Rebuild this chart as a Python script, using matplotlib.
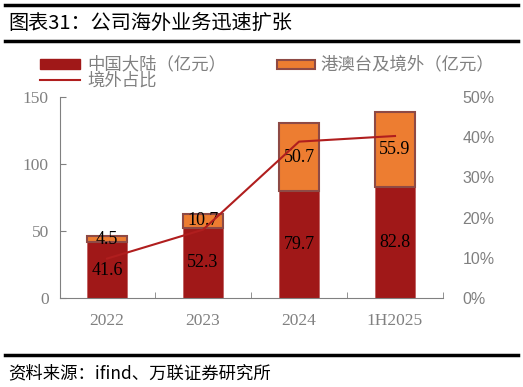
import numpy as np
import matplotlib.pyplot as plt
from matplotlib.lines import Line2D
from matplotlib.patches import Rectangle
from matplotlib.ticker import FuncFormatter

plt.rcParams['font.family'] = ['Noto Sans CJK SC', 'DejaVu Sans']

# Data
years = ["2022", "2023", "2024", "1H2025"]
mainland = [41.6, 52.3, 79.7, 82.8]
overseas = [4.5, 10.7, 50.7, 55.9]
overseas_share = [9.8, 17.0, 38.9, 40.3]  # %
legend_labels = ["中国大陆（亿元）", "港澳台及境外（亿元）", "境外占比"]

c_red = "#A01818"
c_orange = "#ED7D31"
c_edge = "#8E4A45"
c_line = "#B01E1E"
c_gray = "#808080"

W, H = 523, 387
fig = plt.figure(figsize=(W / 100, H / 100), dpi=100)


def fx(px):
    return px / W


def fy(py):
    return 1 - py / H


# Header / footer rules and text
for py in (5, 41, 355):
    fig.add_artist(Line2D([0.01, 0.99], [fy(py), fy(py)], color="black", lw=2.5))
fig.text(0.015, fy(23), "图表31：公司海外业务迅速扩张", fontsize=14.5, va="center", ha="left")
fig.text(0.015, fy(373), "资料来源：ifind、万联证券研究所", fontsize=12.5,
         va="center", ha="left", style="italic")

ax = fig.add_axes([fx(60), fy(298), fx(443 - 60), (298 - 97) / H])
x = np.arange(len(years))
w = 0.42
ax.bar(x, mainland, w, color=c_red, edgecolor="#C06060", linewidth=0.6)
ax.bar(x, overseas, w, bottom=mainland, color=c_orange, edgecolor=c_edge, linewidth=1.5)

for i in range(len(years)):
    ax.text(x[i], mainland[i] / 2, f"{mainland[i]:.1f}", ha="center", va="center",
            fontsize=13, family="Liberation Serif", color="black")
    ax.text(x[i], mainland[i] + overseas[i] / 2, f"{overseas[i]:.1f}", ha="center", va="center",
            fontsize=13, family="Liberation Serif", color="black")

ax.set_xlim(-0.49, 3.5)
ax.set_ylim(0, 150)
ax.set_yticks([0, 50, 100, 150])
ax.set_xticks(x)
ax.set_xticklabels(years)
for lab in ax.get_xticklabels() + ax.get_yticklabels():
    lab.set_family("Liberation Serif")
    lab.set_fontsize(12.5)
    lab.set_color(c_gray)
ax.tick_params(axis="x", length=0, pad=11)
ax.tick_params(axis="y", direction="in", length=4, color=c_gray, pad=8)
ax.set_xticks([0.5, 1.5, 2.5, 3.5], minor=True)
ax.tick_params(axis="x", which="minor", direction="in", length=4, color=c_gray)
for s in ["top", "right"]:
    ax.spines[s].set_visible(False)
ax.spines["left"].set_color(c_gray)
ax.spines["bottom"].set_color(c_gray)

ax2 = ax.twinx()
ax2.plot(x, overseas_share, color=c_line, lw=1.5)
ax2.set_ylim(0, 50)
ax2.set_yticks([0, 10, 20, 30, 40, 50])
ax2.yaxis.set_major_formatter(FuncFormatter(lambda v, p: f"{v:.0f}%"))
ax2.tick_params(axis="y", length=0, pad=14, labelsize=11.5, labelcolor=c_gray)
for lab in ax2.get_yticklabels():
    lab.set_family("Liberation Sans")
for s in ["top", "right", "left", "bottom"]:
    ax2.spines[s].set_visible(False)

# Legend, drawn by hand
fig.add_artist(Rectangle((fx(40), fy(69)), fx(40), 10 / H, facecolor=c_red,
                         edgecolor=c_red, transform=fig.transFigure))
fig.text(fx(87), fy(64), legend_labels[0], fontsize=12.5, color=c_gray, va="center", ha="left")
fig.add_artist(Rectangle((fx(277), fy(69)), fx(38), 9 / H, facecolor=c_orange,
                         edgecolor=c_edge, linewidth=1.5, transform=fig.transFigure))
fig.text(fx(320), fy(64), legend_labels[1], fontsize=12.5, color=c_gray, va="center", ha="left")
fig.add_artist(Line2D([fx(40), fx(80)], [fy(80), fy(80)], color=c_line, lw=1.5))
fig.text(fx(87), fy(81), legend_labels[2], fontsize=12.5, color=c_gray, va="center", ha="left")

fig.savefig("out.png", dpi=100)
